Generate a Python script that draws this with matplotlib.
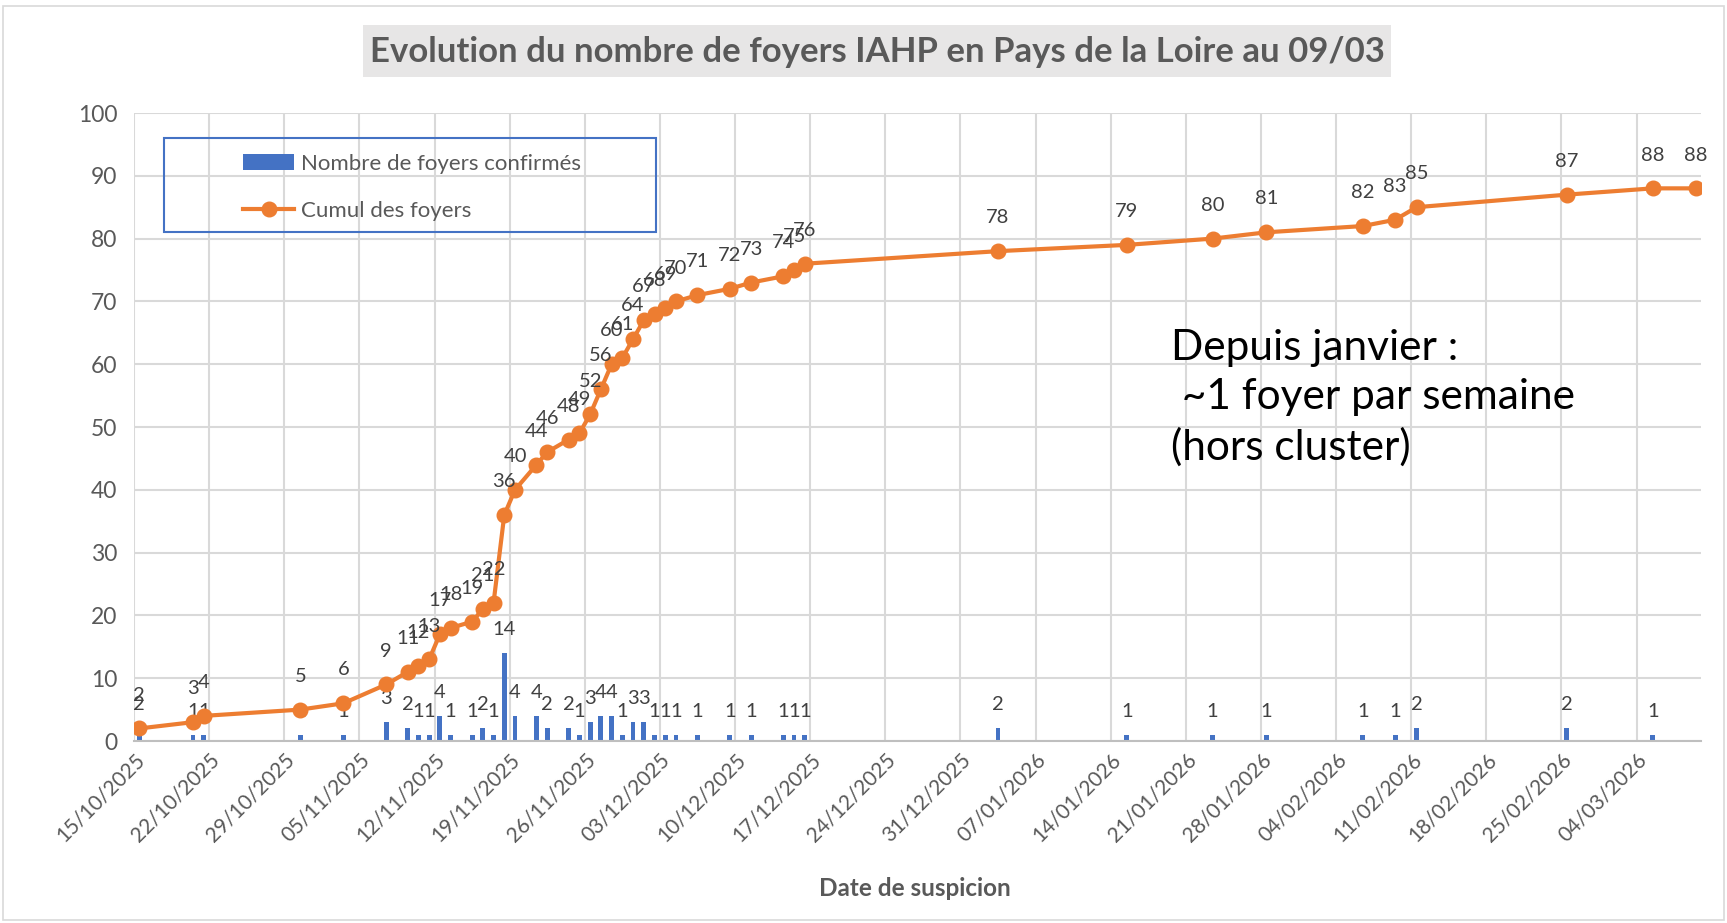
import numpy as np
import pandas as pd
import matplotlib
matplotlib.use("Agg")
import matplotlib.pyplot as plt
import matplotlib.dates as mdates
from matplotlib.patches import Rectangle

plt.rcParams['font.family'] = ['Lato', 'DejaVu Sans']

# dates de suspicion (jours avec au moins un foyer, + dernier jour)
dates = ["15/10/2025", "20/10/2025", "21/10/2025", "30/10/2025", "03/11/2025",
         "07/11/2025", "09/11/2025", "10/11/2025", "11/11/2025", "12/11/2025",
         "13/11/2025", "15/11/2025", "16/11/2025", "17/11/2025", "18/11/2025",
         "19/11/2025", "21/11/2025", "22/11/2025", "24/11/2025", "25/11/2025",
         "26/11/2025", "27/11/2025", "28/11/2025", "29/11/2025", "30/11/2025",
         "01/12/2025", "02/12/2025", "03/12/2025", "04/12/2025", "06/12/2025",
         "09/12/2025", "11/12/2025", "14/12/2025", "15/12/2025", "16/12/2025",
         "03/01/2026", "15/01/2026", "23/01/2026", "28/01/2026", "06/02/2026",
         "09/02/2026", "11/02/2026", "25/02/2026", "05/03/2026", "09/03/2026"]
foyers = [2, 1, 1, 1, 1, 3, 2, 1, 1, 4, 1, 1, 2, 1, 14, 4, 4, 2, 2, 1, 3, 4, 4, 1, 3,
          3, 1, 1, 1, 1, 1, 1, 1, 1, 1, 2, 1, 1, 1, 1, 1, 2, 2, 1, 0]
cumul = [2, 3, 4, 5, 6, 9, 11, 12, 13, 17, 18, 19, 21, 22, 36, 40, 44, 46, 48, 49,
         52, 56, 60, 61, 64, 67, 68, 69, 70, 71, 72, 73, 74, 75, 76, 78, 79, 80, 81,
         82, 83, 85, 87, 88, 88]

titre = "Evolution du nombre de foyers IAHP en Pays de la Loire au 09/03"
note = "Depuis janvier :\n ~1 foyer par semaine\n(hors cluster)"

BLEU = "#4472C4"
ORANGE = "#ED7D31"
GRIS = "#595959"

d = pd.to_datetime(dates, format="%d/%m/%Y")
x = mdates.date2num(d) + 0.5   # centre du jour (axe "entre graduations")
foyers = np.array(foyers)
cumul = np.array(cumul)

W, H = 1727, 923
fig = plt.figure(figsize=(W / 100, H / 100), dpi=100)
ax = fig.add_axes([134 / W, 1 - 741 / H, (1701 - 134) / W, (741 - 113) / H])

# cadre du graphique
fig.patches.append(Rectangle((3 / W, 3 / H), 1 - 6 / W, 1 - 9 / H, transform=fig.transFigure,
                             fill=False, edgecolor="#D9D9D9", lw=1.2))

# barres
m = foyers > 0
barres = ax.bar(x[m], foyers[m], width=0.45, color=BLEU, zorder=2)
for xi, v in zip(x[m], foyers[m]):
    ax.annotate(str(v), (xi, v), xytext=(0, 17), textcoords="offset points",
                ha="center", va="center", fontsize=14.5, color="#404040")

# cumul
ligne, = ax.plot(x, cumul, color=ORANGE, lw=3, marker="o", ms=10.5, zorder=3)
for xi, v in zip(x, cumul):
    ax.annotate(str(v), (xi, v), xytext=(0, 24), textcoords="offset points",
                ha="center", va="center", fontsize=14.5, color="#404040")

ticks = pd.date_range("2025-10-15", "2026-03-04", freq="7D")
ax.set_xticks(mdates.date2num(ticks))
ax.set_xticklabels([t.strftime("%d/%m/%Y") for t in ticks], rotation=45, ha="right",
                   rotation_mode="anchor", fontsize=15, color=GRIS)
ax.set_xlim(mdates.date2num(pd.Timestamp("2025-10-15")), mdates.date2num(pd.Timestamp("2026-03-10")))
ax.set_ylim(0, 100)
ax.set_yticks(range(0, 101, 10))
ax.tick_params(axis="y", labelsize=16.5, labelcolor=GRIS, length=0, pad=12)
ax.tick_params(axis="x", length=0, pad=6)
ax.grid(True, color="#D9D9D9", lw=1.5, zorder=0)
ax.set_axisbelow(True)
for s in ["left", "right", "top"]:
    ax.spines[s].set_visible(False)
ax.spines["bottom"].set_color("#BFBFBF")
ax.spines["bottom"].set_linewidth(1.5)

# titre dans un bandeau gris
fig.patches.append(Rectangle((363 / W, 1 - 77 / H), (1391 - 363) / W, 52 / H,
                             transform=fig.transFigure, facecolor="#E7E6E6", edgecolor="none"))
fig.text(877 / W, 1 - 52 / H, titre, ha="center", va="center", fontsize=25,
         fontweight="bold", color=GRIS)

fig.text(915 / W, 1 - 888 / H, "Date de suspicion", ha="center", va="center",
         fontsize=17.5, fontweight="bold", color=GRIS)

# légende
fig.patches.append(Rectangle((164 / W, 1 - 232 / H), 492 / W, 94 / H, transform=fig.transFigure,
                             fill=False, edgecolor=BLEU, lw=1.5, zorder=5))
fig.legend([barres, ligne], ["Nombre de foyers confirmés", "Cumul des foyers"],
           loc="upper left", bbox_to_anchor=(243 / W, 1 - 154 / H), frameon=False,
           fontsize=16, labelcolor=GRIS, handlelength=2.3, handletextpad=0.3,
           labelspacing=1.2, borderpad=0, borderaxespad=0)

fig.text(1171 / W, 1 - 398 / H, note, ha="left", va="center", fontsize=30.5,
         color="black", linespacing=1.35)

fig.savefig("out.png", dpi=100)
